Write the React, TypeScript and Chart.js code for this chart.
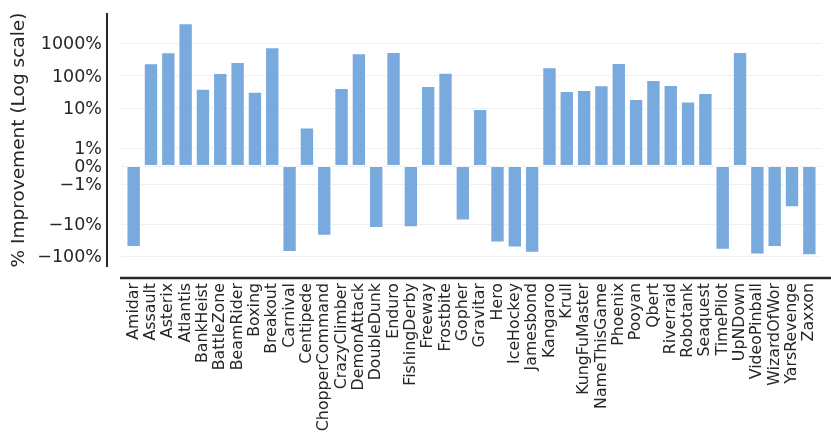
import React, { useEffect, useRef } from "react";
import { Chart, registerables, Scale } from "chart.js";

const GAMES = [
  "Amidar", "Assault", "Asterix", "Atlantis", "BankHeist", "BattleZone", "BeamRider", "Boxing",
  "Breakout", "Carnival", "Centipede", "ChopperCommand", "CrazyClimber", "DemonAttack", "DoubleDunk",
  "Enduro", "FishingDerby", "Freeway", "Frostbite", "Gopher", "Gravitar", "Hero", "IceHockey",
  "Jamesbond", "Kangaroo", "Krull", "KungFuMaster", "NameThisGame", "Phoenix", "Pooyan", "Qbert",
  "Riverraid", "Robotank", "Seaquest", "TimePilot", "UpNDown", "VideoPinball", "WizardOfWor",
  "YarsRevenge", "Zaxxon",
];

const IMPROVEMENT = [
  -51, 239, 526, 4190, 39, 120, 263, 31.4,
  752, -74, 2.4, -23, 41, 490, -13.3,
  537, -12.4, 47, 122, -7.7, 9.1, -37, -53,
  -78, 180, 33, 35.5, 50, 245, 18.7, 72.6,
  50.8, 15.4, 28.6, -63, 537, -88, -51,
  -3.0, -92,
];

const TICK_VALUES = [-100, -10, -1, 0, 1, 10, 100, 1000];
const TICK_LABELS = ["\u2212100%", "\u221210%", "\u22121%", "0%", "1%", "10%", "100%", "1000%"];

const Y_MIN = -215;
const Y_MAX = 8750;
const LIN_THRESH = 2;
const LIN_SCALE = 1;

const C = LIN_SCALE / (1 - 1 / 10);
function tf(v: number): number {
  const a = Math.abs(v);
  const s = Math.sign(v);
  if (a <= LIN_THRESH) return (v * C) / LIN_THRESH;
  return s * (C + Math.log10(a / LIN_THRESH));
}
function itf(t: number): number {
  const a = Math.abs(t);
  const s = Math.sign(t);
  if (a <= C) return (t * LIN_THRESH) / C;
  return s * LIN_THRESH * Math.pow(10, a - C);
}

class SymlogScale extends Scale {
  static id = "symlog";
  static defaults = {};
  _tMin = 0;
  _tMax = 1;
  determineDataLimits() {
    const { min, max } = (this as any).getMinMax(true);
    const o: any = this.options;
    (this as any).min = o.min ?? min;
    (this as any).max = o.max ?? max;
  }
  buildTicks() {
    return TICK_VALUES.map((v) => ({ value: v }));
  }
  configure() {
    super.configure();
    this._tMin = tf((this as any).min);
    this._tMax = tf((this as any).max);
  }
  getLabelForValue(v: number) {
    return String(v);
  }
  getPixelForValue(v: number) {
    return this.getPixelForDecimal((tf(v) - this._tMin) / (this._tMax - this._tMin));
  }
  getValueForPixel(p: number) {
    return itf(this._tMin + this.getDecimalForPixel(p) * (this._tMax - this._tMin));
  }
}

Chart.register(...registerables, SymlogScale as any);

const gridPlugin = {
  id: "customGrid",
  beforeDatasetsDraw(chart: any) {
    const { ctx, chartArea } = chart;
    const y = chart.scales.y;
    ctx.save();
    ctx.strokeStyle = "#efefef";
    ctx.lineWidth = 1;
    for (const t of y.ticks) {
      const py = Math.round(y.getPixelForValue(t.value)) + 0.5;
      ctx.beginPath();
      ctx.moveTo(chartArea.left - 4, py);
      ctx.lineTo(chartArea.right + 4, py);
      ctx.stroke();
    }
    ctx.restore();
  },
};

const spinePlugin = {
  id: "spines",
  afterDraw(chart: any) {
    const { ctx, chartArea } = chart;
    ctx.save();
    ctx.strokeStyle = "#262626";
    ctx.lineWidth = 2;
    ctx.beginPath();
    ctx.moveTo(chartArea.left - 18, chartArea.top);
    ctx.lineTo(chartArea.left - 18, chartArea.bottom);
    ctx.stroke();
    ctx.lineWidth = 2.5;
    ctx.beginPath();
    ctx.moveTo(chartArea.left - 5, chartArea.bottom + 11);
    ctx.lineTo(chart.width, chartArea.bottom + 11);
    ctx.stroke();
    ctx.restore();
  },
};

export default function App() {
  const ref = useRef<HTMLCanvasElement | null>(null);
  useEffect(() => {
    if (!ref.current) return;
    const chart = new Chart(ref.current, {
      type: "bar",
      data: {
        labels: GAMES,
        datasets: [
          {
            data: IMPROVEMENT,
            backgroundColor: "#78aade",
            borderColor: "rgba(255,255,255,0.45)",
            borderWidth: 1,
            borderSkipped: false,
            barPercentage: 0.83,
            categoryPercentage: 1.0,
          },
        ],
      },
      options: {
        animation: false,
        responsive: true,
        maintainAspectRatio: false,
        layout: { padding: { top: 13, right: 13, left: 0, bottom: 0 } },
        plugins: { legend: { display: false }, tooltip: { enabled: false } },
        scales: {
          x: {
            type: "category",
            grid: { display: false, drawTicks: false },
            border: { display: false },
            ticks: {
              autoSkip: false,
              maxRotation: 90,
              minRotation: 90,
              padding: 16,
              color: "#262626",
              font: { family: "DejaVu Sans", size: 15.8 },
            },
            afterFit: (s: any) => {
              s.height = 175;
              s.paddingLeft = 0;
              s.paddingRight = 0;
              s.paddingTop = 0;
              s.paddingBottom = 0;
            },
          },
          y: {
            type: "symlog" as any,
            min: Y_MIN,
            max: Y_MAX,
            grid: { display: false, drawTicks: false },
            border: { display: false },
            ticks: {
              autoSkip: false,
              padding: 23,
              labelOffset: 1.5,
              color: "#262626",
              font: { family: "DejaVu Sans", size: 17.5 },
              callback: (v: any) => {
                const i = TICK_VALUES.indexOf(Number(v));
                return i >= 0 ? TICK_LABELS[i] : "";
              },
            },
            title: {
              display: true,
              text: "% Improvement (Log scale)",
              color: "#262626",
              font: { family: "DejaVu Sans", size: 18.5 },
              padding: { top: 8, bottom: 0 },
            },
            afterFit: (s: any) => {
              s.width = 125;
              s.paddingLeft = 0;
              s.paddingRight = 0;
              s.paddingTop = 0;
              s.paddingBottom = 0;
            },
          } as any,
        },
      },
      plugins: [gridPlugin, spinePlugin],
    });
    return () => chart.destroy();
  }, []);
  return (
    <div style={{ position: "fixed", left: 0, top: 0, width: 831, height: 442, background: "#fff" }}>
      <canvas ref={ref} />
    </div>
  );
}
